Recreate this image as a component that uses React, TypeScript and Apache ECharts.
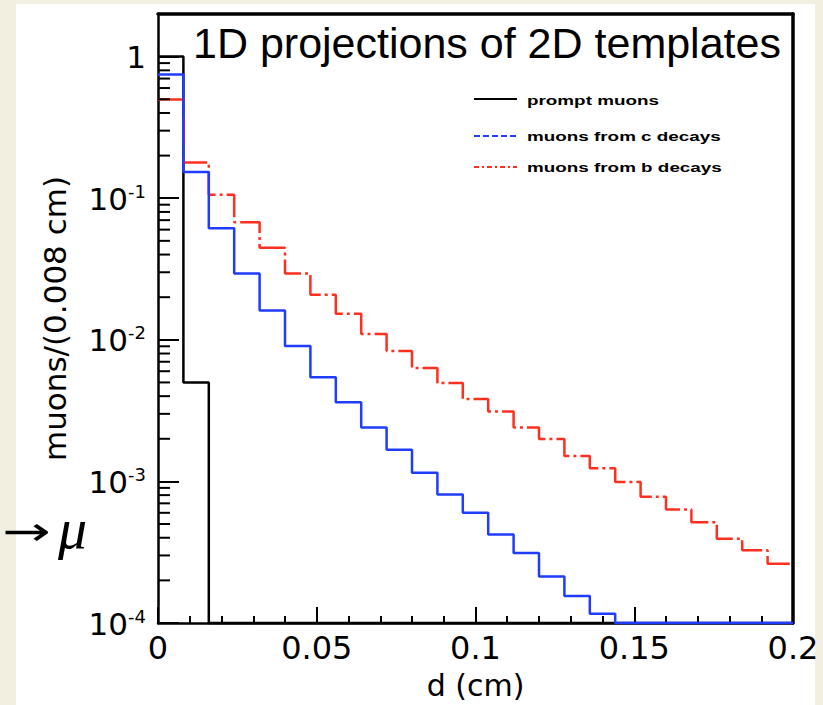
import React, { useEffect, useRef } from "react";
import * as echarts from "echarts";

// ---- data ----
const BIN_WIDTH = 0.008; // cm
const Y_MIN = 1e-4;
const Y_MAX = 2;
const Y_DECADES = [-4, -3, -2, -1, 0];

// prompt muons (black)
const promptMuons = [1.0, 0.005, 0, 0, 0, 0, 0, 0, 0, 0, 0, 0, 0, 0, 0, 0, 0, 0, 0, 0, 0, 0, 0, 0, 0];
// muons from c decays (blue)
const cDecays = [
  0.748, 0.153, 0.0613, 0.0294, 0.0161, 0.00906, 0.00544, 0.00362, 0.0024, 0.00167,
  0.00115, 0.000809, 0.0006, 0.000421, 0.000312, 0.000213, 0.000155, 0.000116, 0, 0,
  0, 0, 0, 0, 0,
];
// muons from b decays (red)
const bDecays = [
  0.498, 0.179, 0.1056, 0.0676, 0.0447, 0.0294, 0.0208, 0.0153, 0.011, 0.00832,
  0.00633, 0.00495, 0.00382, 0.00312, 0.0024, 0.00199, 0.00151, 0.00124, 0.000989, 0.000779,
  0.000633, 0.000515, 0.000394, 0.000326, 0.000262,
];

const SERIES_NAMES = ["prompt muons", "muons from c decays", "muons from b decays"];
const TITLE = "1D projections of 2D templates";
const X_NAME = "d (cm)";
const Y_NAME = "muons/(0.008 cm)";

const BLACK = "#000000";
const BLUE = "#1f3cff";
const RED = "#ff2f1f";
const BEIGE = "#f2eee0";

function steps(vals: number[]) {
  const pts: number[][] = vals.map((v, i) => [i * BIN_WIDTH, Math.max(v, Y_MIN)]);
  pts.push([vals.length * BIN_WIDTH, Math.max(vals[vals.length - 1], Y_MIN)]);
  return pts;
}

function minorTickValues() {
  const out: number[][] = [];
  for (const e of Y_DECADES) {
    for (let k = 2; k <= 9; k++) {
      const v = k * Math.pow(10, e);
      if (v <= Y_MAX && v >= Y_MIN) out.push([0, v]);
    }
  }
  return out;
}

const LABEL_FONT = "DejaVu Sans";

export default function App() {
  const ref = useRef<HTMLDivElement>(null);

  useEffect(() => {
    document.body.style.margin = "0";
    if (!ref.current) return;
    const chart = echarts.init(ref.current, null, { renderer: "svg" });

    const option: any = {
      animation: false,
      backgroundColor: BEIGE,
      grid: { left: 158, top: 14, width: 635, height: 609, containLabel: false, outerBoundsMode: "none" },
      xAxis: [
        {
          type: "value",
          min: 0,
          max: 0.2,
          interval: 0.05,
          position: "bottom",
          axisLine: { show: true, onZero: false, lineStyle: { color: BLACK, width: 2.5 } },
          axisTick: { show: true, inside: true, length: 16, lineStyle: { color: BLACK, width: 2 } },
          minorTick: { show: true, splitNumber: 5, length: 7, lineStyle: { color: BLACK, width: 2 } },
          splitLine: { show: false },
          minorSplitLine: { show: false },
          axisLabel: {
            color: BLACK,
            fontFamily: LABEL_FONT,
            fontSize: 32,
            margin: 9,
            formatter: (v: number) => String(+v.toFixed(3)),
          },
          name: X_NAME,
          nameLocation: "middle",
          nameGap: 47,
          nameTextStyle: { color: BLACK, fontFamily: LABEL_FONT, fontSize: 30 },
        },
        {
          type: "value",
          min: 0,
          max: 0.2,
          position: "top",
          axisLine: { show: true, onZero: false, lineStyle: { color: BLACK, width: 3.5 } },
          axisTick: { show: false },
          axisLabel: { show: false },
          splitLine: { show: false },
        },
      ],
      yAxis: [
        {
          type: "log",
          logBase: 10,
          min: Y_MIN,
          max: Y_MAX,
          position: "left",
          axisLine: { show: true, onZero: false, lineStyle: { color: BLACK, width: 2.5 } },
          axisTick: { show: true, inside: true, length: 21, lineStyle: { color: BLACK, width: 2 } },
          splitLine: { show: false },
          axisLabel: {
            color: BLACK,
            margin: 12,
            formatter: (v: number) => {
              const l = Math.log10(v);
              const e = Math.round(l);
              if (Math.abs(l - e) > 1e-6) return "";
              if (e === 0) return "{b|1}";
              return "{b|10}{e|" + String(e) + "}";
            },
            rich: {
              b: { fontFamily: LABEL_FONT, fontSize: 31, color: BLACK, verticalAlign: "bottom" },
              e: {
                fontFamily: LABEL_FONT,
                fontSize: 18,
                color: BLACK,
                verticalAlign: "bottom",
                padding: [0, 0, 14, 0],
              },
            },
          },
          name: Y_NAME,
          nameLocation: "middle",
          nameGap: 88,
          nameTextStyle: { color: BLACK, fontFamily: LABEL_FONT, fontSize: 31 },
        },
        {
          type: "value",
          min: 0,
          max: 1,
          position: "right",
          axisLine: { show: true, onZero: false, lineStyle: { color: BLACK, width: 3.5 } },
          axisTick: { show: false },
          axisLabel: { show: false },
          splitLine: { show: false },
        },
      ],
      series: [
        {
          name: SERIES_NAMES[0],
          type: "line",
          step: "end",
          symbol: "none",
          clip: false,
          data: steps(promptMuons),
          lineStyle: { color: BLACK, width: 2.5 },
          z: 3,
        },
        {
          name: SERIES_NAMES[2],
          type: "line",
          step: "end",
          symbol: "none",
          clip: false,
          data: steps(bDecays),
          lineStyle: { color: RED, width: 2.5, type: [30, 4, 3, 4] },
          z: 4,
        },
        {
          name: SERIES_NAMES[1],
          type: "line",
          step: "end",
          symbol: "none",
          clip: false,
          data: steps(cDecays),
          lineStyle: { color: BLUE, width: 2.5 },
          z: 5,
        },
        {
          type: "custom",
          coordinateSystem: "cartesian2d",
          silent: true,
          z: 6,
          data: minorTickValues(),
          renderItem: (params: any, api: any) => {
            const p = api.coord([api.value(0), api.value(1)]);
            return {
              type: "line",
              shape: { x1: p[0], y1: p[1], x2: p[0] + 12, y2: p[1] },
              style: { stroke: BLACK, lineWidth: 2 },
            };
          },
        },
      ],
      graphic: [
        {
          type: "rect",
          z: -10,
          silent: true,
          shape: { x: 16, y: 4, width: 799, height: 701 },
          style: { fill: "#ffffff" },
        },
        {
          type: "text",
          x: 193,
          y: 43,
          style: {
            text: TITLE,
            fontSize: 43,
            fontFamily: "Liberation Sans",
            fill: BLACK,
            align: "left",
            verticalAlign: "middle",
          },
        },
        { type: "line", shape: { x1: 474, y1: 99, x2: 517, y2: 99 }, style: { stroke: BLACK, lineWidth: 2 } },
        {
          type: "line",
          shape: { x1: 474, y1: 136, x2: 517, y2: 136 },
          style: { stroke: BLUE, lineWidth: 2, lineDash: [6, 3] },
        },
        {
          type: "line",
          shape: { x1: 474, y1: 167, x2: 517, y2: 167 },
          style: { stroke: RED, lineWidth: 2, lineDash: [5, 3, 2, 3] },
        },
        ...SERIES_NAMES.map((t, i) => ({
          type: "text",
          x: 527,
          y: [100, 136, 167][i],
          scaleX: 1.45,
          style: {
            text: t,
            fontSize: 13,
            fontWeight: "bold",
            fontFamily: "Liberation Sans",
            fill: BLACK,
            align: "left",
            verticalAlign: "middle",
          },
        })),
        {
          type: "text",
          x: 51,
          y: 531,
          scaleX: 1.45,
          style: {
            text: "→",
            fontSize: 40,
            fontFamily: "DejaVu Sans",
            fontWeight: "normal",
            fill: BLACK,
            align: "right",
            verticalAlign: "middle",
          },
        },
        {
          type: "text",
          x: 58,
          y: 528,
          style: {
            text: "μ",
            fontSize: 58,
            fontFamily: "Liberation Serif",
            fontStyle: "italic",
            fill: BLACK,
            align: "left",
            verticalAlign: "middle",
          },
        },
      ],
    };

    chart.setOption(option);
    return () => chart.dispose();
  }, []);

  return <div ref={ref} style={{ width: 823, height: 705 }} />;
}
